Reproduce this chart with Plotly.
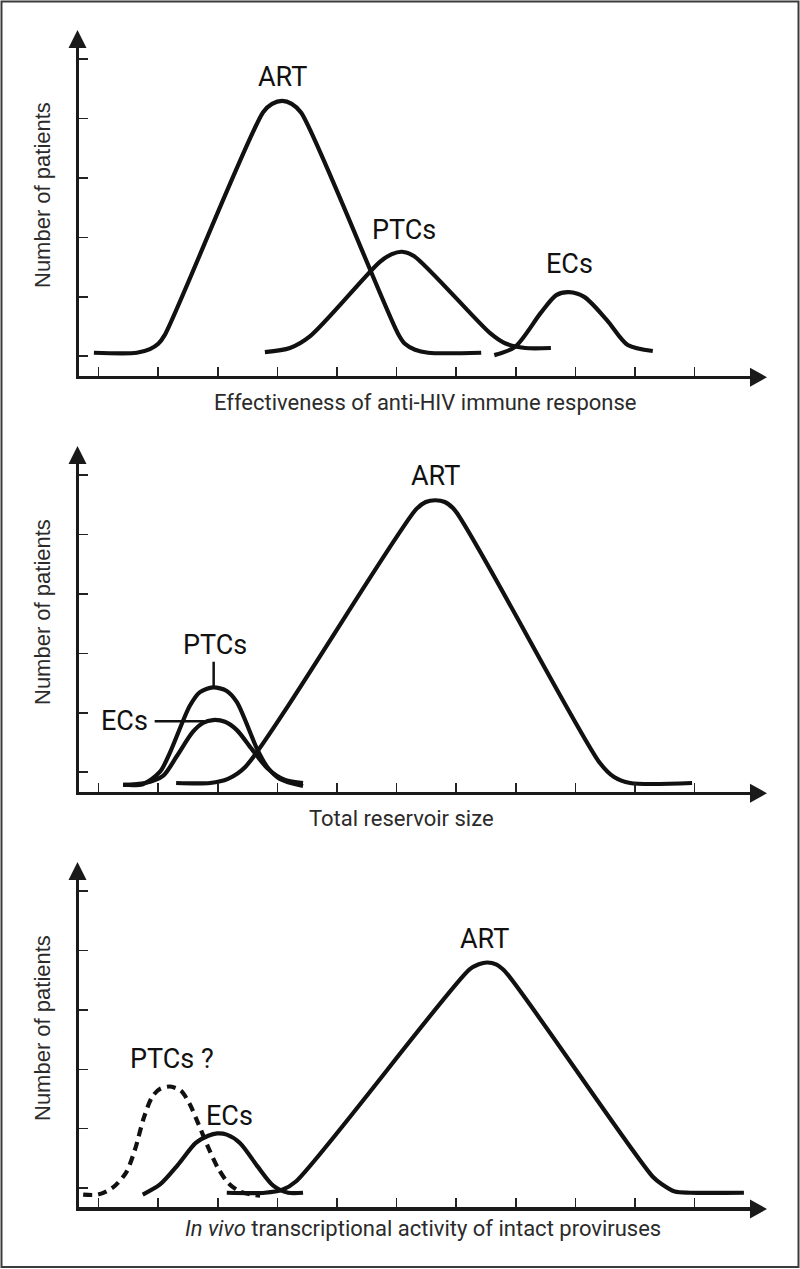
import plotly.graph_objects as go

W, H = 800, 1269

# ---------------- data (axis units: x ticks at 1..11, y ticks at 1..6) ----------------
X_TICKS = list(range(1, 12))
Y_TICKS = list(range(1, 7))

X_TITLES = [
    "Effectiveness of anti-HIV immune response",
    "Total reservoir size",
    "<i>In vivo</i> transcriptional activity of intact proviruses",
]
Y_TITLE = "Number of patients"

# Panel 1
p1_art_x = [0.92, 1.64, 1.86, 2.00, 2.11, 3.76, 3.91, 4.08, 4.24, 4.40, 6.02, 6.14, 6.31, 6.53, 7.42]
p1_art_y = [1.06, 1.06, 1.12, 1.21, 1.36, 5.11, 5.25, 5.30, 5.25, 5.10, 1.39, 1.21, 1.11, 1.06, 1.06]
p1_ptc_x = [3.79, 4.21, 4.55, 5.72, 5.92, 6.09, 6.29, 7.57, 7.82, 8.16, 8.59]
p1_ptc_y = [1.07, 1.14, 1.34, 2.59, 2.72, 2.76, 2.69, 1.39, 1.22, 1.14, 1.14]
p1_ec_x = [7.64, 7.99, 8.42, 8.68, 8.89, 9.15, 9.53, 9.88, 10.30]
p1_ec_y = [1.02, 1.16, 1.73, 2.03, 2.08, 2.00, 1.61, 1.19, 1.09]
p1_lab_text = ["ART", "PTCs", "ECs"]
p1_lab_x = [4.09, 6.12, 8.91]
p1_lab_y = [5.71, 3.13, 2.56]

# Panel 2
p2_art_x = [2.30, 2.87, 3.17, 3.46, 6.33, 6.49, 6.65, 6.81, 6.98, 9.41, 9.65, 9.92, 10.96]
p2_art_y = [0.82, 0.82, 0.89, 1.09, 5.43, 5.55, 5.58, 5.55, 5.41, 1.16, 0.92, 0.82, 0.82]
p2_ptc_x = [1.41, 1.74, 2.03, 2.20, 2.53, 2.70, 2.92, 3.15, 3.32, 3.66, 3.83, 4.04, 4.43]
p2_ptc_y = [0.79, 0.80, 1.01, 1.34, 2.12, 2.35, 2.43, 2.37, 2.18, 1.39, 1.09, 0.89, 0.77]
p2_ec_x = [1.41, 1.78, 2.08, 2.31, 2.58, 2.75, 2.92, 3.12, 3.32, 3.57, 3.84, 4.13, 4.43]
p2_ec_y = [0.79, 0.82, 0.94, 1.27, 1.68, 1.83, 1.88, 1.85, 1.71, 1.39, 1.06, 0.87, 0.82]
p2_lab_text = ["ART", "PTCs", "ECs"]
p2_lab_x = [6.66, 2.95, 1.44]
p2_lab_y = [5.98, 3.14, 1.86]
p2_ptc_leader_x = [2.93, 2.93]
p2_ptc_leader_y = [2.86, 2.43]
p2_ec_leader_x = [1.94, 2.78]
p2_ec_leader_y = [1.86, 1.86]

# Panel 3
p3_art_x = [3.15, 3.79, 4.08, 4.31, 7.22, 7.38, 7.52, 7.67, 7.82, 10.30, 10.46, 10.67, 10.93, 11.83]
p3_art_y = [0.92, 0.92, 0.97, 1.11, 4.68, 4.77, 4.80, 4.77, 4.65, 1.19, 1.06, 0.94, 0.92, 0.92]
p3_ec_x = [1.74, 2.03, 2.33, 2.63, 2.84, 2.99, 3.15, 3.37, 3.67, 3.93, 4.18, 4.43]
p3_ec_y = [0.89, 1.06, 1.39, 1.76, 1.88, 1.92, 1.90, 1.76, 1.36, 1.04, 0.92, 0.92]
p3_ptc_x = [0.74, 0.99, 1.24, 1.46, 1.61, 1.76, 1.90, 2.03, 2.20, 2.38, 2.53, 2.67, 2.84, 3.00, 3.17, 3.37, 3.71]
p3_ptc_y = [0.89, 0.89, 1.01, 1.26, 1.65, 2.19, 2.54, 2.67, 2.71, 2.64, 2.41, 2.09, 1.68, 1.34, 1.09, 0.94, 0.87]
p3_lab_text = ["ART", "PTCs ?", "ECs"]
p3_lab_x = [7.47, 2.23, 3.20]
p3_lab_y = [5.19, 3.17, 2.22]

# ---------------- layout helpers ----------------
def pxx(p):
    return p / W

def pxy(p):
    return 1 - p / H

AXIS_LW = 3.5
AX_LEFT_PX = 77.5 + AXIS_LW / 2
AX_RIGHT_PX = 750.0
PANEL_AXIS_PX = [377.3, 793.3, 1209.0]   # pixel row of x-axis line
PANEL_TOP_PX = [48.0, 464.0, 880.0]      # pixel row of arrow base
X_RANGE = [0.674, 11.932]
Y_RANGE = [0.676, 6.19]

CURVE = dict(color="#111111", width=4.2)
fig = go.Figure()

def add_curve(x, y, k, dash=None):
    ln = dict(CURVE, shape="spline", smoothing=0.8)
    if dash:
        ln["dash"] = dash
    fig.add_trace(go.Scatter(
        x=x, y=y, mode="lines", line=ln, hoverinfo="skip", showlegend=False,
        xaxis="x" if k == 1 else f"x{k}", yaxis="y" if k == 1 else f"y{k}",
    ))

add_curve(p1_art_x, p1_art_y, 1)
add_curve(p1_ptc_x, p1_ptc_y, 1)
add_curve(p1_ec_x, p1_ec_y, 1)
add_curve(p2_art_x, p2_art_y, 2)
add_curve(p2_ptc_x, p2_ptc_y, 2)
add_curve(p2_ec_x, p2_ec_y, 2)
add_curve(p3_art_x, p3_art_y, 3)
add_curve(p3_ec_x, p3_ec_y, 3)
add_curve(p3_ptc_x, p3_ptc_y, 3, dash="9px,6px")

# leader lines (panel 2)
for lx, ly in [(p2_ptc_leader_x, p2_ptc_leader_y), (p2_ec_leader_x, p2_ec_leader_y)]:
    fig.add_trace(go.Scatter(x=lx, y=ly, mode="lines", line=dict(color="#111111", width=2.5),
                             hoverinfo="skip", showlegend=False, xaxis="x2", yaxis="y2"))

layout = dict(
    width=W, height=H, margin=dict(l=0, r=0, t=0, b=0),
    paper_bgcolor="white", plot_bgcolor="rgba(0,0,0,0)", showlegend=False,
)
axis_common = dict(showgrid=False, zeroline=False, showticklabels=False, showline=True,
                   linewidth=AXIS_LW, linecolor="#1a1a1a", ticks="inside", ticklen=9,
                   tickwidth=1.6, tickcolor="#222222", fixedrange=True)
for i in range(3):
    sfx = "" if i == 0 else str(i + 1)
    layout[f"xaxis{sfx}"] = dict(axis_common, domain=[pxx(AX_LEFT_PX), pxx(AX_RIGHT_PX)],
                                 range=X_RANGE, tickvals=X_TICKS, anchor=f"y{sfx}")
    layout[f"yaxis{sfx}"] = dict(axis_common,
                                 domain=[pxy(PANEL_AXIS_PX[i] - AXIS_LW / 2), pxy(PANEL_TOP_PX[i])],
                                 range=Y_RANGE, tickvals=Y_TICKS, anchor=f"x{sfx}")
fig.update_layout(**layout)

shapes = []
annotations = []
AXIS_X_PX = 77.5
for i in range(3):
    ax_y = PANEL_AXIS_PX[i]
    top = PANEL_TOP_PX[i]
    # y arrow
    shapes.append(dict(type="path", xref="paper", yref="paper",
                       path=f"M {pxx(AXIS_X_PX-9)} {pxy(top)} L {pxx(AXIS_X_PX+9)} {pxy(top)} L {pxx(AXIS_X_PX)} {pxy(top-18)} Z",
                       fillcolor="#1a1a1a", line=dict(width=0)))
    # x arrow
    shapes.append(dict(type="path", xref="paper", yref="paper",
                       path=f"M {pxx(AX_RIGHT_PX)} {pxy(ax_y-9.5)} L {pxx(AX_RIGHT_PX)} {pxy(ax_y+9.5)} L {pxx(AX_RIGHT_PX+17)} {pxy(ax_y)} Z",
                       fillcolor="#1a1a1a", line=dict(width=0)))

# outer border
shapes.append(dict(type="rect", xref="paper", yref="paper",
                   x0=pxx(1.5), x1=pxx(798.5), y0=pxy(1267), y1=pxy(1.5),
                   line=dict(color="#3c3c3c", width=2), fillcolor="rgba(0,0,0,0)"))

# axis titles
X_TITLE_POS = [(425, 402), (401, 818), (423, 1228)]
Y_TITLE_POS = [(42, 195), (42, 612), (42, 1028)]
for i in range(3):
    tx, ty = X_TITLE_POS[i]
    annotations.append(dict(text=X_TITLES[i], xref="paper", yref="paper", x=pxx(tx), y=pxy(ty),
                            xanchor="center", yanchor="middle", showarrow=False,
                            font=dict(family="Roboto", size=22, color="#2b2b2b")))
    yx, yy = Y_TITLE_POS[i]
    annotations.append(dict(text=Y_TITLE, xref="paper", yref="paper", x=pxx(yx), y=pxy(yy),
                            xanchor="center", yanchor="middle", showarrow=False, textangle=-90,
                            font=dict(family="Liberation Sans", size=22, color="#2b2b2b")))

# curve labels
for k, (tt, xx, yy) in enumerate([(p1_lab_text, p1_lab_x, p1_lab_y),
                                   (p2_lab_text, p2_lab_x, p2_lab_y),
                                   (p3_lab_text, p3_lab_x, p3_lab_y)], start=1):
    sfx = "" if k == 1 else str(k)
    for t, x, y in zip(tt, xx, yy):
        annotations.append(dict(text=t, x=x, y=y, xref=f"x{sfx}", yref=f"y{sfx}",
                                xanchor="center", yanchor="middle", showarrow=False,
                                font=dict(family="Roboto", size=27, color="#111111")))

fig.update_layout(shapes=shapes, annotations=annotations)

fig.write_html("out.html", config={"displayModeBar": False, "staticPlot": True},
               post_script="document.body.style.margin='0';document.body.style.overflow='hidden';")
